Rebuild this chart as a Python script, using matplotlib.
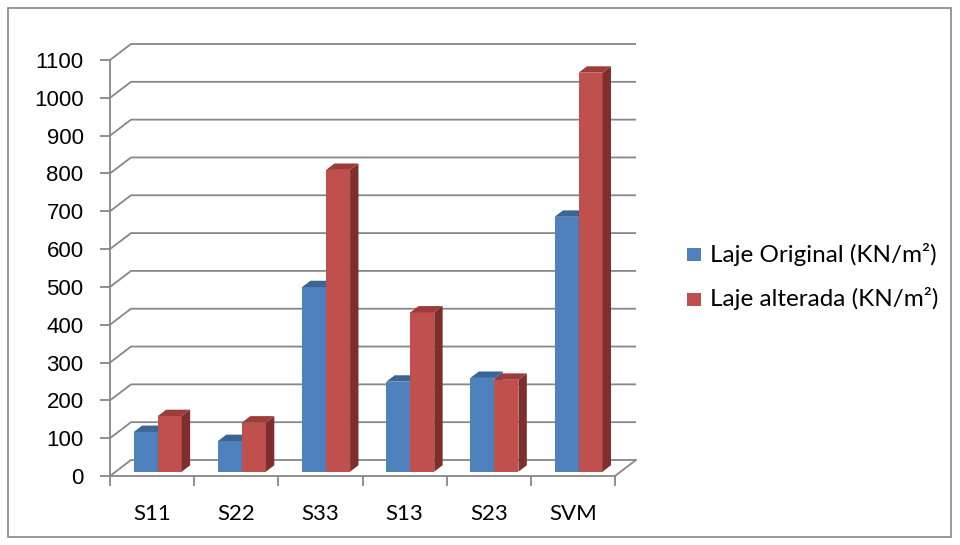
import matplotlib
matplotlib.use("Agg")
import matplotlib.pyplot as plt
import numpy as np
from matplotlib.patches import Polygon, Rectangle

# ── data ────────────────────────────────────────────────────────────────────
categories = ["S11", "S22", "S33", "S13", "S23", "SVM"]
laje_original = [105, 81, 488, 238, 248, 674]
laje_alterada = [147, 130, 798, 421, 243, 1055]
series_names = ["Laje Original (KN/m²)", "Laje alterada (KN/m²)"]
y_ticks = list(range(0, 1101, 100))

# ── style ───────────────────────────────────────────────────────────────────
GRID = "#878787"
BLUE = ("#4F81BD", "#3B6595", "#385D8A")   # front, top, side
RED = ("#C0504D", "#9E3C3A", "#7E2F2D")
W, H = 960, 545

fig = plt.figure(figsize=(W / 100, H / 100), dpi=100)
fig.patch.set_facecolor("white")

# outer chart-area frame
fig.patches.append(Rectangle((8 / W, 8 / H), 943 / W, 529 / H, transform=fig.transFigure,
                             fill=False, edgecolor=GRID, lw=1.2))

# front plane of the plot: x 0..6 categories, y 0..1100
ax = fig.add_axes([110 / W, (H - 476) / H, 505 / W, 416 / H])
ax.set_xlim(0, len(categories))
ax.set_ylim(0, 1100)
ax.set_facecolor("none")

# depth of the 3-D box in data units
px_x = len(categories) / 505
px_y = 1100 / 416
DX, DY = 21 * px_x, 16 * px_y

for s in ("top", "right"):
    ax.spines[s].set_visible(False)
for s in ("left", "bottom"):
    ax.spines[s].set_color(GRID)
    ax.spines[s].set_linewidth(1.3)

ax.set_yticks(y_ticks)
ax.set_yticklabels([str(v) for v in y_ticks])
ax.tick_params(axis="y", length=7, width=1.3, color=GRID, pad=12,
               labelsize=16, labelfontfamily="Liberation Sans")
ax.set_xticks(np.arange(len(categories)) + 0.5)
ax.set_xticklabels(categories)
ax.set_xticks(np.arange(len(categories) + 1), minor=True)
ax.tick_params(axis="x", which="major", length=0, pad=20,
               labelsize=16, labelfontfamily="Lato")
ax.tick_params(axis="x", which="minor", length=7, width=1.3, color=GRID)

# left wall diagonals and back-wall gridlines
n = len(categories)
for v in y_ticks:
    ax.plot([0, DX, n + DX], [v, v + DY, v + DY], color=GRID, lw=1.3,
            clip_on=False, zorder=1, solid_capstyle="butt")
# right edge of the floor
ax.plot([n, n + DX], [0, DY], color=GRID, lw=1.3, clip_on=False, zorder=1)

# bars: front faces via ax.bar, top and side faces from the same values
f0, f1 = 0.27, 0.67
bw = 0.285
centers = np.arange(n) + 0.5
for k, (vals, cols) in enumerate([(laje_original, BLUE), (laje_alterada, RED)]):
    xs = centers + (k - 0.5) * bw + f0 * DX
    base = f0 * DY
    ax.bar(xs, vals, width=bw, bottom=base, color=cols[0], zorder=3 + k,
           clip_on=False, linewidth=0)
    d_x, d_y = (f1 - f0) * DX, (f1 - f0) * DY
    for x, v in zip(xs, vals):
        l, r, t = x - bw / 2, x + bw / 2, base + v
        side = Polygon([(r, base), (r + d_x, base + d_y), (r + d_x, t + d_y), (r, t)],
                       closed=True, facecolor=cols[2], edgecolor="none",
                       zorder=3 + k, clip_on=False)
        top = Polygon([(l, t), (l + d_x, t + d_y), (r + d_x, t + d_y), (r, t)],
                      closed=True, facecolor=cols[1], edgecolor="none",
                      zorder=3 + k, clip_on=False)
        ax.add_patch(side)
        ax.add_patch(top)

# legend
for i, (name, cols) in enumerate(zip(series_names, [BLUE, RED])):
    yc = 254 + i * 45
    fig.patches.append(Rectangle((687 / W, (H - yc - 6.5) / H), 14 / W, 13 / H,
                                 transform=fig.transFigure, facecolor=cols[0],
                                 edgecolor="none"))
    fig.text(710 / W, (H - yc) / H, name, ha="left", va="center",
             fontsize=17.5, family="Lato", color="black")

fig.savefig("out.png", dpi=100, facecolor="white")
